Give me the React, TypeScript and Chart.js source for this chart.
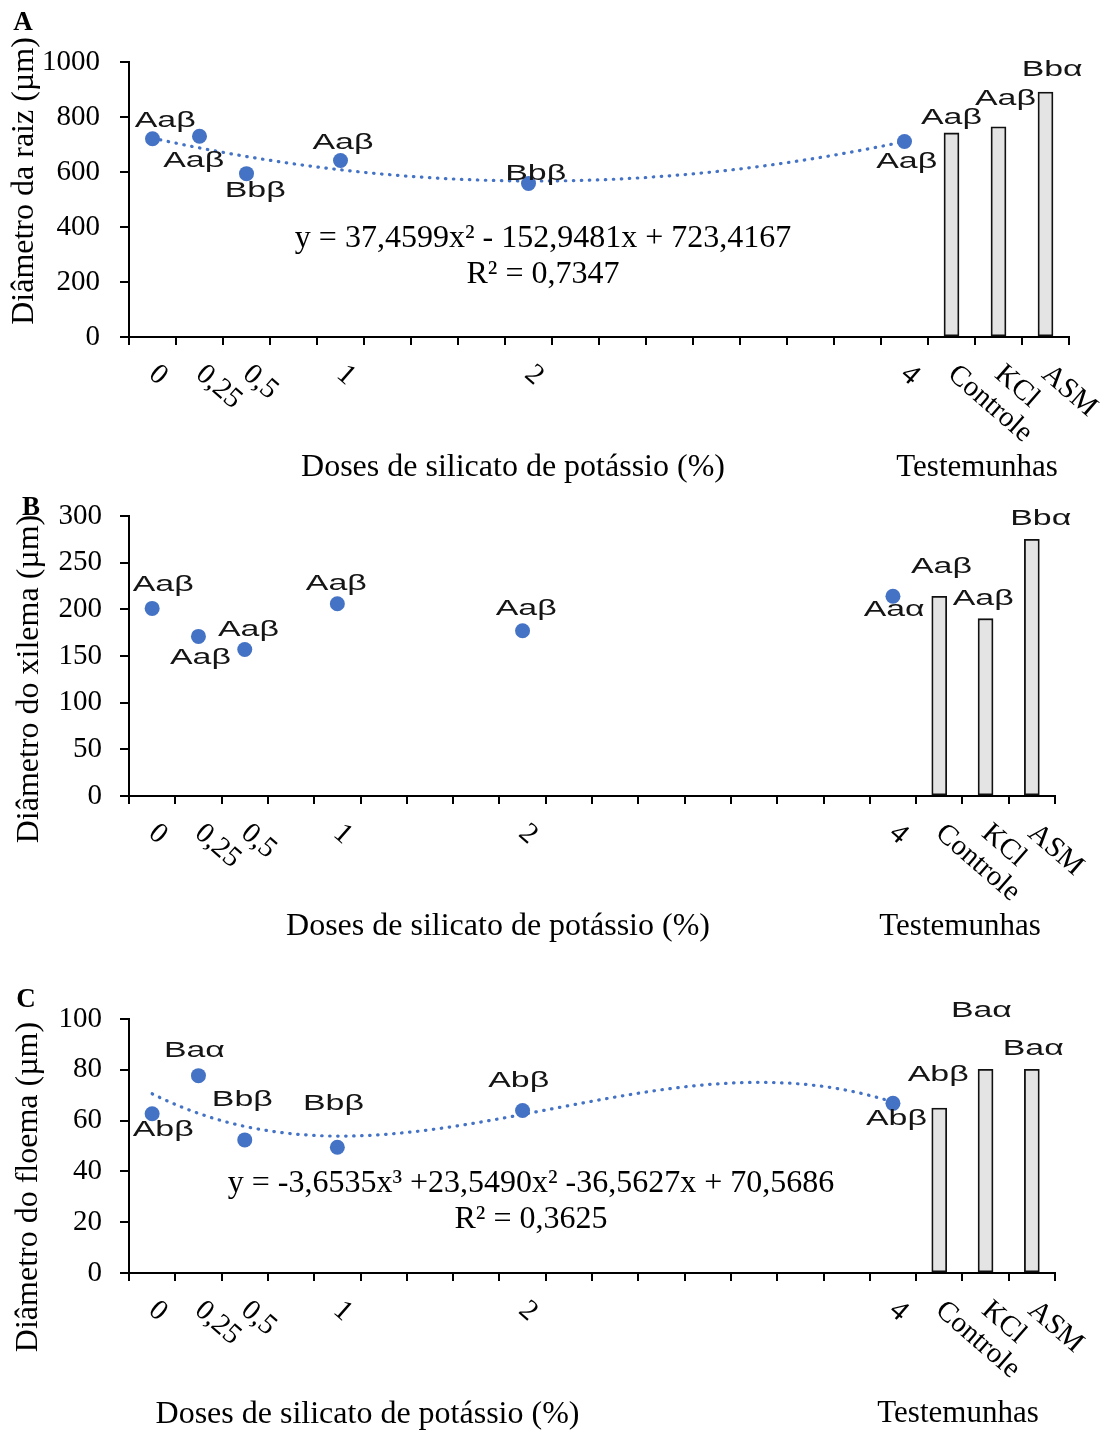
import React, { useEffect, useRef } from 'react';
import { Chart, registerables } from 'chart.js';

Chart.register(...registerables);

// ---------------- data ----------------
const doses = [0, 0.25, 0.5, 1, 2, 4];
const doseTickLabels = ['0', '0,25', '0,5', '1', '2', '4'];
const controlNames = ['Controle', 'KCl', 'ASM'];
const controlPositions = [4.25, 4.5, 4.75];

const rootYTicks = [0, 200, 400, 600, 800, 1000];
const rootDiameter = [721, 730, 594, 642, 558, 711];
const rootControls = [742, 764, 891];
const rootPointLetters = ['Aaβ', 'Aaβ', 'Bbβ', 'Aaβ', 'Bbβ', 'Aaβ'];
const rootControlLetters = ['Aaβ', 'Aaβ', 'Bbα'];
const rootTrendCoefficients = [723.4167, -152.9481, 37.4599];
const rootEquation = ['y = 37,4599x² - 152,9481x + 723,4167', 'R² = 0,7347'];

const xylemYTicks = [0, 50, 100, 150, 200, 250, 300];
const xylemDiameter = [201, 171, 157, 206, 177, 214];
const xylemControls = [214, 190, 275];
const xylemPointLetters = ['Aaβ', 'Aaβ', 'Aaβ', 'Aaβ', 'Aaβ', 'Aaα'];
const xylemControlLetters = ['Aaβ', 'Aaβ', 'Bbα'];

const phloemYTicks = [0, 20, 40, 60, 80, 100];
const phloemDiameter = [62.7, 77.7, 52.4, 49.5, 64, 66.8];
const phloemControls = [64.9, 80.2, 80.2];
const phloemPointLetters = ['Abβ', 'Baα', 'Bbβ', 'Bbβ', 'Abβ', 'Abβ'];
const phloemControlLetters = ['Abβ', 'Baα', 'Baα'];
const phloemTrendCoefficients = [70.5686, -36.5627, 23.549, -3.6535];
const phloemEquation = ['y = -3,6535x³ +23,5490x² -36,5627x + 70,5686', 'R² = 0,3625'];

const xTitleDoses = 'Doses de silicato de potássio (%)';
const xTitleControls = 'Testemunhas';

// ---------------- styling / layout ----------------
const PAGE_W = 1111;
const PAGE_H = 1432;
const SERIF = "'Liberation Serif', 'Times New Roman', Times, serif";
const SANS = "'Liberation Sans', Arial, Helvetica, sans-serif";
const BLUE = '#4472C4';
const X_MIN = -0.125;
const X_MAX = 4.875;
const SLOT = 0.25;
const LABEL_ANGLE = (41 * Math.PI) / 180;
const LETTER_WIDTH = 61;

type Panel = {
  id: string;
  area: { left: number; right: number; top: number; bottom: number };
  yTicks: number[];
  yPad: number;
  points: number[];
  controls: number[];
  pointLetters: string[];
  controlLetters: string[];
  pointOffsets: number[][];
  controlOffsets: number[][];
  trend: number[] | null;
  equation: string[] | null;
  eqPos: number[];
  letterPos: number[];
  yTitle: string;
  yTitlePos: number[];
  xTitlePos: number[];
  testPos: number[];
};

const panels: Panel[] = [
  {
    id: 'A',
    area: { left: 129, right: 1069, top: 62, bottom: 337 },
    yTicks: rootYTicks,
    yPad: 20,
    points: rootDiameter,
    controls: rootControls,
    pointLetters: rootPointLetters,
    controlLetters: rootControlLetters,
    pointOffsets: [[12.7, -11.4], [-5.8, 31], [8.7, 23.6], [2.5, -11], [7.2, -3.3], [2.2, 26.8]],
    controlOffsets: [[0, -8.7], [7, -21.6], [6.7, -15.7]],
    trend: rootTrendCoefficients,
    equation: rootEquation,
    eqPos: [543, 246.7, 283.3],
    letterPos: [23, 30],
    yTitle: 'Diâmetro da raiz (µm)',
    yTitlePos: [25, 181],
    xTitlePos: [513, 476],
    testPos: [977, 476],
  },
  {
    id: 'B',
    area: { left: 129, right: 1055, top: 516, bottom: 796 },
    yTicks: xylemYTicks,
    yPad: 18,
    points: xylemDiameter,
    controls: xylemControls,
    pointLetters: xylemPointLetters,
    controlLetters: xylemControlLetters,
    pointOffsets: [[11, -17.7], [2, 27.6], [3.7, -13.3], [-1, -14], [3.6, -16.3], [1.2, 20]],
    controlOffsets: [[2.2, -23.3], [-2.4, -13.4], [8.9, -14.3]],
    trend: null,
    equation: null,
    eqPos: [0, 0, 0],
    letterPos: [31, 515],
    yTitle: 'Diâmetro do xilema (µm)',
    yTitlePos: [30, 679],
    xTitlePos: [498, 935],
    testPos: [960, 935],
  },
  {
    id: 'C',
    area: { left: 129, right: 1055, top: 1019, bottom: 1273 },
    yTicks: phloemYTicks,
    yPad: 18,
    points: phloemDiameter,
    controls: phloemControls,
    pointLetters: phloemPointLetters,
    controlLetters: phloemControlLetters,
    pointOffsets: [[11, 22.5], [-4, -19], [-2.4, -34.4], [-3.9, -36.8], [-3.8, -23.2], [3.5, 21.2]],
    controlOffsets: [[-1, -27.6], [-4.1, -52.7], [1.4, -14.7]],
    trend: phloemTrendCoefficients,
    equation: phloemEquation,
    eqPos: [531, 1191.7, 1228.3],
    letterPos: [26, 1006.7],
    yTitle: 'Diâmetro do floema (µm)',
    yTitlePos: [29, 1187],
    xTitlePos: [367.5, 1423],
    testPos: [958, 1422],
  },
];

function trendPoints(coef: number[]) {
  const pts: { x: number; y: number }[] = [];
  for (let i = 0; i <= 80; i++) {
    const x = i * 0.05;
    let y = 0;
    coef.forEach((c, k) => {
      y += c * Math.pow(x, k);
    });
    pts.push({ x, y });
  }
  return pts;
}

function makePlugin(p: Panel) {
  return {
    id: 'panelText' + p.id,
    afterDatasetsDraw(chart: any) {
      const { ctx } = chart;
      const xs = chart.scales.x;
      const ys = chart.scales.y;
      ctx.save();
      ctx.fillStyle = '#151515';
      ctx.font = `22px ${SANS}`;
      ctx.textAlign = 'center';
      ctx.textBaseline = 'alphabetic';
      const draw = (text: string, px: number, py: number) => {
        const w = ctx.measureText(text).width;
        ctx.save();
        ctx.translate(px, py);
        ctx.scale(LETTER_WIDTH / w, 1);
        ctx.fillText(text, 0, 0);
        ctx.restore();
      };
      doses.forEach((d, i) => {
        draw(
          p.pointLetters[i],
          xs.getPixelForValue(d) + p.pointOffsets[i][0],
          ys.getPixelForValue(p.points[i]) + p.pointOffsets[i][1]
        );
      });
      controlPositions.forEach((c, i) => {
        draw(
          p.controlLetters[i],
          xs.getPixelForValue(c) + p.controlOffsets[i][0],
          ys.getPixelForValue(p.controls[i]) + p.controlOffsets[i][1]
        );
      });
      ctx.restore();
    },
    afterDraw(chart: any) {
      const { ctx, chartArea } = chart;
      const xs = chart.scales.x;
      ctx.save();
      ctx.fillStyle = '#000';
      // rotated x tick labels
      ctx.font = `29px ${SERIF}`;
      ctx.textAlign = 'left';
      ctx.textBaseline = 'middle';
      const tickItems = [
        ...doses.map((d, i) => ({ pos: d, text: doseTickLabels[i] })),
        ...controlPositions.map((c, i) => ({ pos: c, text: controlNames[i] })),
      ];
      tickItems.forEach(({ pos, text }) => {
        ctx.save();
        ctx.translate(xs.getPixelForValue(pos), chartArea.bottom + 33.5);
        ctx.rotate(LABEL_ANGLE);
        ctx.fillText(text, 0, 0);
        ctx.restore();
      });
      // axis titles
      ctx.textAlign = 'center';
      ctx.textBaseline = 'alphabetic';
      ctx.font = `32px ${SERIF}`;
      ctx.fillText(xTitleDoses, p.xTitlePos[0], p.xTitlePos[1]);
      ctx.font = `31px ${SERIF}`;
      ctx.fillText(xTitleControls, p.testPos[0], p.testPos[1]);
      ctx.save();
      ctx.font = `32px ${SERIF}`;
      ctx.translate(p.yTitlePos[0], p.yTitlePos[1]);
      ctx.rotate(-Math.PI / 2);
      ctx.textBaseline = 'middle';
      ctx.fillText(p.yTitle, 0, 0);
      ctx.restore();
      // panel letter
      ctx.font = `bold 27px ${SERIF}`;
      ctx.fillText(p.id, p.letterPos[0], p.letterPos[1]);
      // equation
      if (p.equation) {
        ctx.font = `32px ${SERIF}`;
        ctx.fillText(p.equation[0], p.eqPos[0], p.eqPos[1]);
        ctx.fillText(p.equation[1], p.eqPos[0], p.eqPos[2]);
      }
      ctx.restore();
    },
  };
}

function makeConfig(p: Panel): any {
  const boundaries: number[] = [];
  for (let k = 0; k <= 20; k++) boundaries.push(X_MIN + k * SLOT);
  const datasets: any[] = [
    {
      type: 'scatter',
      order: 0,
      data: doses.map((d, i) => ({ x: d, y: p.points[i] })),
      backgroundColor: BLUE,
      borderColor: BLUE,
      borderWidth: 0,
      pointRadius: 7.5,
      pointHoverRadius: 7.5,
    },
    {
      type: 'bar',
      order: 2,
      data: controlPositions.map((c, i) => ({ x: c, y: p.controls[i] })),
      backgroundColor: '#E4E4E4',
      borderColor: '#111',
      borderWidth: 1.8,
      borderSkipped: false,
      barThickness: 15,
    },
  ];
  if (p.trend) {
    datasets.push({
      type: 'line',
      order: 1,
      data: trendPoints(p.trend),
      showLine: true,
      borderColor: BLUE,
      borderWidth: 3.2,
      borderDash: [0.5, 7.5],
      borderCapStyle: 'round',
      pointRadius: 0,
      fill: false,
      tension: 0,
    });
  }
  return {
    type: 'scatter',
    data: { datasets },
    options: {
      animation: false,
      responsive: false,
      devicePixelRatio: 1,
      events: [],
      layout: {
        padding: {
          left: 0,
          top: p.area.top,
          right: PAGE_W - p.area.right,
          bottom: 0,
        },
      },
      plugins: {
        legend: { display: false },
        tooltip: { enabled: false },
        title: { display: false },
      },
      scales: {
        x: {
          type: 'linear',
          min: X_MIN,
          max: X_MAX,
          offset: false,
          afterBuildTicks: (s: any) => {
            s.ticks = boundaries.map((v) => ({ value: v }));
          },
          afterFit: (s: any) => {
            s.height = PAGE_H - p.area.bottom;
          },
          ticks: { display: false },
          grid: {
            drawOnChartArea: false,
            drawTicks: true,
            tickLength: 8,
            color: '#000',
            lineWidth: 2,
            offset: false,
          },
          border: { display: true, color: '#000', width: 2 },
        },
        y: {
          type: 'linear',
          min: p.yTicks[0],
          max: p.yTicks[p.yTicks.length - 1],
          afterBuildTicks: (s: any) => {
            s.ticks = p.yTicks.map((v) => ({ value: v }));
          },
          afterFit: (s: any) => {
            s.width = p.area.left;
          },
          ticks: {
            color: '#000',
            padding: p.yPad,
            font: { family: SERIF, size: 29 },
            callback: (v: any) => String(v),
          },
          grid: {
            drawOnChartArea: false,
            drawTicks: true,
            tickLength: 9,
            color: '#000',
            lineWidth: 2,
          },
          border: { display: true, color: '#000', width: 2 },
        },
      },
    },
    plugins: [makePlugin(p)],
  };
}

function PanelChart({ p }: { p: Panel }) {
  const ref = useRef<HTMLCanvasElement>(null);
  useEffect(() => {
    const chart = new Chart(ref.current as HTMLCanvasElement, makeConfig(p));
    return () => chart.destroy();
  }, [p]);
  return (
    <canvas
      ref={ref}
      width={PAGE_W}
      height={PAGE_H}
      style={{ position: 'absolute', left: 0, top: 0, width: PAGE_W, height: PAGE_H }}
    />
  );
}

export default function App() {
  return (
    <div
      style={{
        position: 'absolute',
        left: 0,
        top: 0,
        width: PAGE_W,
        height: PAGE_H,
        background: '#fff',
        overflow: 'hidden',
      }}
    >
      {panels.map((p) => (
        <PanelChart key={p.id} p={p} />
      ))}
    </div>
  );
}
